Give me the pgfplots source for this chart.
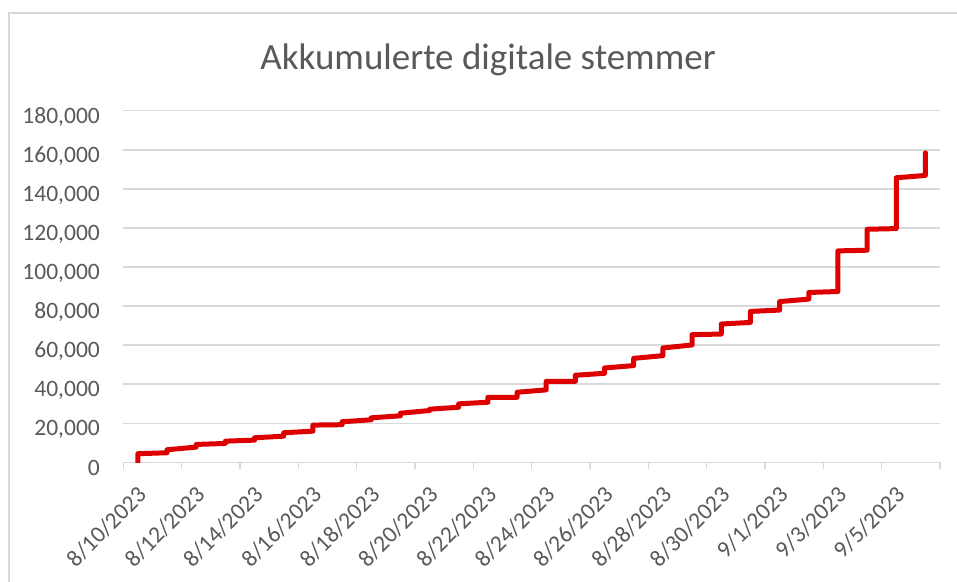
\documentclass[border=0pt]{standalone}
\usepackage{fontspec}
\setmainfont{Carlito}
\usepackage{pgfplots}
\pgfplotsset{compat=1.18}
\definecolor{txtgray}{HTML}{595959}
\definecolor{gridgray}{HTML}{D9D9D9}
\definecolor{linered}{RGB}{220,0,0}
\begin{document}
\begin{tikzpicture}[x=1pt,y=1pt]
\useasboundingbox (0,0) rectangle (957,581);
\draw[gridgray, line width=1.3pt] (9,-20) -- (9,568) -- (990,568);
\node[anchor=base, text=txtgray, font=\fontsize{37}{44}\selectfont, inner sep=0pt] at (488,511.7) {Akkumulerte digitale stemmer};
\begin{axis}[
  at={(123.3pt,118.6pt)}, anchor=south west,
  scale only axis, width=816.7pt, height=351.7pt,
  xmin=-0.5, xmax=27.5, ymin=0, ymax=180000,
  axis line style={draw=none},
  xtick pos=bottom, ytick pos=left,
  ymajorgrids, grid style={gridgray, line width=1.5pt},
  ytick={0,20000,40000,60000,80000,100000,120000,140000,160000,180000},
  yticklabels={0,{20,000},{40,000},{60,000},{80,000},{100,000},{120,000},{140,000},{160,000},{180,000}},
  scaled y ticks=false,
  major tick length=0pt,
  xtick={0,2,...,26},
  xticklabels={8/10/2023,8/12/2023,8/14/2023,8/16/2023,8/18/2023,8/20/2023,8/22/2023,8/24/2023,8/26/2023,8/28/2023,8/30/2023,9/1/2023,9/3/2023,9/5/2023},
  minor xtick={-0.5,1.5,...,27.5},
  minor tick length=7pt,
  tick align=outside,
  minor tick style={gridgray, line width=1.5pt},
  yticklabel style={font=\fontsize{23.5}{28}\selectfont, text=txtgray, inner sep=0pt, anchor=base east, xshift=-23.3pt, yshift=-12.6pt},
  xticklabel style={font=\fontsize{23.5}{28}\selectfont, text=txtgray, inner sep=0pt, xshift=4.5pt, yshift=-28.5pt, rotate=45, anchor=east},
]
\addplot[linered, line width=5pt, line cap=round, line join=round] coordinates {
(0,0) (0,4440)
(1,4950) (1,6480)
(2,7830) (2,9190)
(3,9700) (3,10880)
(4,11400) (4,12600)
(5,13430) (5,15160)
(6,16000) (6,19100)
(7,19300) (7,20800)
(8,21800) (8,22820)
(9,23840) (9,25170)
(10,26550) (10,27220)
(11,28240) (11,29970)
(12,30790) (12,33340)
(13,33340) (13,35900)
(14,37120) (14,41510)
(15,41510) (15,44600)
(16,45600) (16,48350)
(17,49530) (17,53260)
(18,54630) (18,58560)
(19,60100) (19,65360)
(20,65700) (20,70820)
(21,71640) (21,77260)
(22,77970) (22,82300)
(23,83580) (23,86960)
(24,87470) (24,108250)
(25,108600) (25,119320)
(26,119660) (26,145680)
(27,146870) (27,158440)
};
\end{axis}
\end{tikzpicture}
\end{document}
